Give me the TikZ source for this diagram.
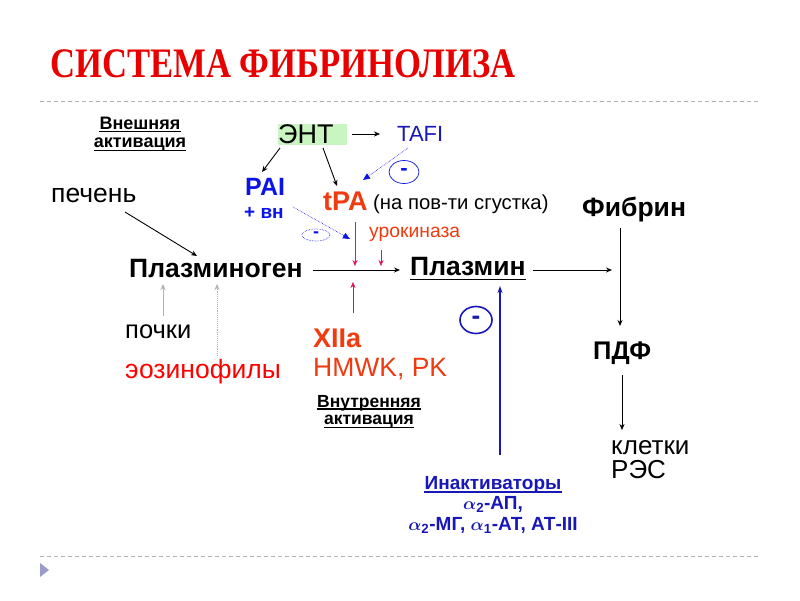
\documentclass[tikz,border=0pt]{standalone}
\usepackage{amsmath}
\usepackage{fontspec}
\setmainfont{Liberation Sans}
\newfontfamily\titlefont{Liberation Serif}
\usetikzlibrary{arrows.meta,shapes.geometric}
\definecolor{ttl}{HTML}{E80000}
\definecolor{blu}{HTML}{0A14E6}
\definecolor{dblu}{HTML}{1818B8}
\definecolor{ora}{HTML}{F03A10}
\definecolor{mag}{HTML}{E0105A}
\definecolor{grn}{HTML}{C8F5C0}
\newcommand{\fsz}[1]{\fontsize{#1}{#1}\selectfont}
\newcommand{\alp}[1]{$\boldsymbol{\alpha}_{\mathbf{#1}}$}
\tikzset{
  lbl/.style={inner sep=0pt, anchor=west},
  ctr/.style={inner sep=0pt, anchor=center},
  bas/.style={inner sep=0pt, anchor=base, text height=13pt, text depth=0pt},
  uline/.style={line width=1.1pt},
  blk/.style={-{Stealth[length=6pt,width=5pt]}, black, line width=0.9pt},
  thin/.style={-{Stealth[length=6pt,width=5pt]}, black, line width=0.6pt},
  magarr/.style={-{Stealth[length=6pt,width=5pt]}, mag, line width=0.9pt},
  dotblu/.style={-{Triangle[length=7pt,width=6pt]}, blu, densely dotted, line width=0.6pt},
  sep/.style={gray!60, dashed, line width=0.8pt, dash pattern=on 4pt off 3pt},
}
\begin{document}
\begin{tikzpicture}[x=1pt,y=-1pt]
\useasboundingbox (0,0) rectangle (800,600);
\fill[white] (0,0) rectangle (800,600);
% title
\node[lbl, text=ttl] (title) at (50,64) {\titlefont\bfseries\scalebox{0.825}[1]{\fsz{42}СИСТЕМА ФИБРИНОЛИЗА}};
\draw[sep] (40,101) -- (760,101);
\draw[sep] (40,556) -- (760,556);
\fill[blue!30!gray!60] (40,563) -- (49,570) -- (40,577) -- cycle;

% external activation
\node[bas, font=\fsz{18}\bfseries] (ext1) at (140,129) {Внешняя};
\node[bas, font=\fsz{18}\bfseries] (ext2) at (140,147) {активация};
\draw[uline] ([yshift=-2.5pt]ext1.base west) -- ([yshift=-2.5pt]ext1.base east);
\draw[uline] ([yshift=-3.5pt]ext2.base west) -- ([yshift=-3.5pt]ext2.base east);

\node[lbl, fill=grn, minimum width=69pt, minimum height=21pt, anchor=west] (ent0) at (278,134) {};
\node[lbl, font=\fsz{27}] (ent) at (278,134) {ЭНТ};
\node[lbl, font=\fsz{22}, text=dblu] (tafi) at (397,134) {TAFI};
\coordinate (a1) at (352,134);
\coordinate (a2) at (380,134);
\draw[thin] (a1) -- (a2);

\node[lbl, font=\fsz{25}\bfseries, text=blu] (pai) at (245,187) {PAI};
\node[lbl, font=\fsz{19}\bfseries, text=blu] (vn) at (244,213) {+ вн};
\node[lbl, font=\fsz{27}\bfseries, text=ora] (tpa) at (323,201) {tPA};
\node[lbl, font=\fsz{20.3}] (surf) at (373,204) {(на пов-ти сгустка)};
\node[lbl, font=\fsz{19.3}, text=ora] (uro) at (369,234) {урокиназа};

\coordinate (e1) at (280,148);
\coordinate (e2) at (323,148);
\coordinate (p1) at (262,172);
\coordinate (t1) at (337,186);
\draw[blk] (e1) -- (p1);
\draw[blk] (e2) -- (t1);

\coordinate (tf1) at (408,148);
\coordinate (tf2) at (363,180);
\draw[dotblu] (tf1) -- (tf2);
\node[ellipse, draw=blu, line width=0.7pt, minimum width=30pt, minimum height=23pt, inner sep=0pt, font=\fsz{22}\bfseries, text=blu] (m1) at (404,172) {-};

\coordinate (pa1) at (293,207);
\coordinate (pa2) at (350,239);
\draw[dotblu] (pa1) -- (pa2);
\node[ellipse, draw=blu, densely dotted, line width=0.6pt, minimum width=28pt, minimum height=12pt, inner sep=0pt, font=\fsz{18}\bfseries, text=blu] (m2) at (316,235) {-};

% main line
\node[lbl, font=\fsz{26.5}\bfseries] (plg) at (129,269) {Плазминоген};
\node[lbl, font=\fsz{26.5}\bfseries] (pl) at (410,269) {\underline{Плазмин}};
\node[lbl, font=\fsz{26.5}\bfseries] (fib) at (582,210) {Фибрин};
\node[lbl, font=\fsz{25.5}\bfseries] (pdf) at (593,353) {ПДФ};
\node[lbl, font=\fsz{26}] (res1) at (611,448) {клетки};
\node[lbl, font=\fsz{26}] (res2) at (611,470) {РЭС};
\coordinate (c1) at (313,270);
\coordinate (c2) at (400,270);
\draw[blk] (c1) -- (c2);
\coordinate (c3) at (533,270);
\coordinate (c4) at (612,270);
\draw[blk] (c3) -- (c4);
\coordinate (f1) at (620,228);
\coordinate (f2) at (620,326);
\draw[blk] (f1) -- (f2);
\coordinate (d1) at (622,375);
\coordinate (d2) at (622,430);
\draw[thin] (d1) -- (d2);

% magenta arrows
\coordinate (m3) at (355,222);
\coordinate (m4) at (355,266);
\draw[magarr] (m3) -- (m4);
\coordinate (m5) at (381,250);
\coordinate (m6) at (381,266);
\draw[magarr, line width=0.6pt] (m5) -- (m6);
\coordinate (m7) at (353,313);
\coordinate (m8) at (353,282);
\draw[magarr, line width=0.6pt] (m7) -- (m8);

% left side
\node[lbl, font=\fsz{26.5}] (liver) at (51,195) {печень};
\coordinate (l1) at (125,212);
\coordinate (l2) at (197,256);
\draw[blk] (l1) -- (l2);
\node[lbl, font=\fsz{25.5}] (kid) at (125,332) {почки};
\node[lbl, font=\fsz{26.5}, text=red] (eos) at (125,372) {эозинофилы};
\coordinate (k1) at (163,316);
\coordinate (k2) at (163,284);
\draw[-{Stealth[length=6pt,width=5pt]}, gray!60, line width=0.9pt] (k1) -- (k2);
\coordinate (k3) at (217,356);
\coordinate (k4) at (217,284);
\draw[-{Stealth[length=6pt,width=5pt]}, gray!60, densely dotted, line width=0.9pt] (k3) -- (k4);

% intrinsic
\node[lbl, font=\fsz{27}\bfseries, text=ora] (x12) at (313,338) {XIIa};
\node[lbl, font=\fsz{26.5}, text=ora] (hm) at (313,369) {HMWK, PK};
\node[bas, font=\fsz{17.5}\bfseries] (int1) at (369,407) {Внутренняя};
\node[bas, font=\fsz{17.5}\bfseries, text height=10pt] (int2) at (369,424) {активация};
\draw[uline] ([yshift=-2pt]int1.base west) -- ([yshift=-2pt]int1.base east);
\draw[uline] ([yshift=-3.5pt]int2.base west) -- ([yshift=-3.5pt]int2.base east);

% inactivators
\node[bas, font=\fsz{19}\bfseries, text=dblu] (inact1) at (493,489) {Инактиваторы};
\draw[uline, dblu] ([yshift=-3pt]inact1.base west) -- ([yshift=-3pt]inact1.base east);
\node[bas, font=\fsz{19}\bfseries, text=dblu] (inact2) at (493,509) {\alp{2}-АП,};
\node[bas, font=\fsz{19}\bfseries, text=dblu] (inact3) at (493,530) {\alp{2}-МГ, \alp{1}-АТ, АТ-III};
\coordinate (i1) at (500,455);
\coordinate (i2) at (500,286);
\draw[-{Stealth[length=7pt,width=5pt]}, dblu, line width=1.2pt] (i1) -- (i2);
\node[ellipse, draw=dblu, line width=1.6pt, minimum width=32pt, minimum height=27pt, inner sep=0pt, font=\fsz{26}\bfseries, text=dblu] (m9) at (476,320) {-};
\end{tikzpicture}
\end{document}
